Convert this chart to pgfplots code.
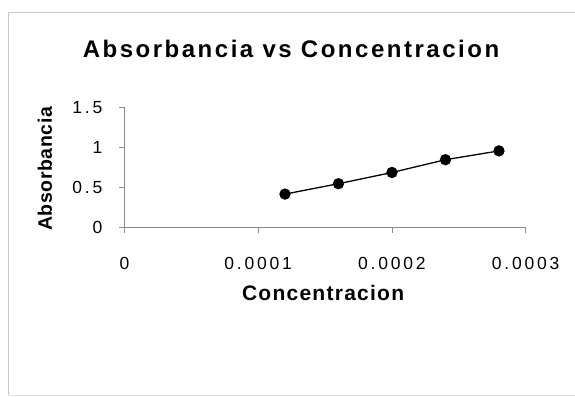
\documentclass[border=0pt]{standalone}
\usepackage{fontspec}
\setmainfont{Liberation Sans}
\newfontfamily\titlefont[LetterSpace=10.5]{Liberation Sans}
\newfontfamily\labfont[LetterSpace=6]{Liberation Sans}
\newfontfamily\ylabfont[LetterSpace=3]{Liberation Sans}
\newfontfamily\tickfont[LetterSpace=16]{Liberation Sans}
\usepackage{pgfplots}
\pgfplotsset{compat=1.18}
\begin{document}
\begin{tikzpicture}
\path[use as bounding box] (0,0) rectangle (575pt,396pt);
\draw[black!22, line width=0.8pt] (8pt,0) -- (8pt,383.3pt) -- (575pt,383.3pt);
\draw[black!10, line width=0.8pt] (8pt,0.5pt) -- (575pt,0.5pt);
\node[font=\titlefont\bfseries\fontsize{24}{28}\selectfont] at (291pt,347.3pt) {Absorbancia vs Concentracion};
\begin{axis}[
  at={(124.5pt,168.3pt)}, anchor=south west,
  scale only axis, width=401.2pt, height=120pt,
  xmin=0, xmax=0.0003, ymin=0, ymax=1.5,
  axis lines*=left,
  axis line style={black!45, line width=0.7pt},
  tick style={black!45, line width=0.7pt},
  tick align=outside, major tick length=5pt,
  xtick={0,0.0001,0.0002,0.0003},
  xticklabels={0,0.0001,0.0002,0.0003},
  ytick={0,0.5,1,1.5},
  yticklabels={0,0.5,1,1.5},
  scaled x ticks=false, scaled y ticks=false,
  xticklabel style={font=\tickfont\fontsize{17.5}{20}\selectfont, anchor=center, inner sep=0pt, yshift=-31pt},
  yticklabel style={font=\tickfont\fontsize{17.5}{20}\selectfont, anchor=east, inner sep=0pt, xshift=-17pt},
  xlabel={Concentracion},
  ylabel={Absorbancia},
  xlabel style={font=\labfont\bfseries\fontsize{21}{25}\selectfont, at={(axis description cs:0.495,0)}, anchor=center, yshift=-65pt},
  ylabel style={font=\ylabfont\bfseries\fontsize{19.5}{23}\selectfont, at={(axis description cs:0,0.49)}, anchor=center, yshift=79.5pt},
  clip=false,
]
\addplot[black, line width=1.3pt, mark=*, mark size=5pt, mark options={fill=black}] coordinates {
  (0.00012,0.42) (0.00016,0.55) (0.00020,0.69) (0.00024,0.85) (0.00028,0.96)
};
\end{axis}
\end{tikzpicture}
\end{document}
